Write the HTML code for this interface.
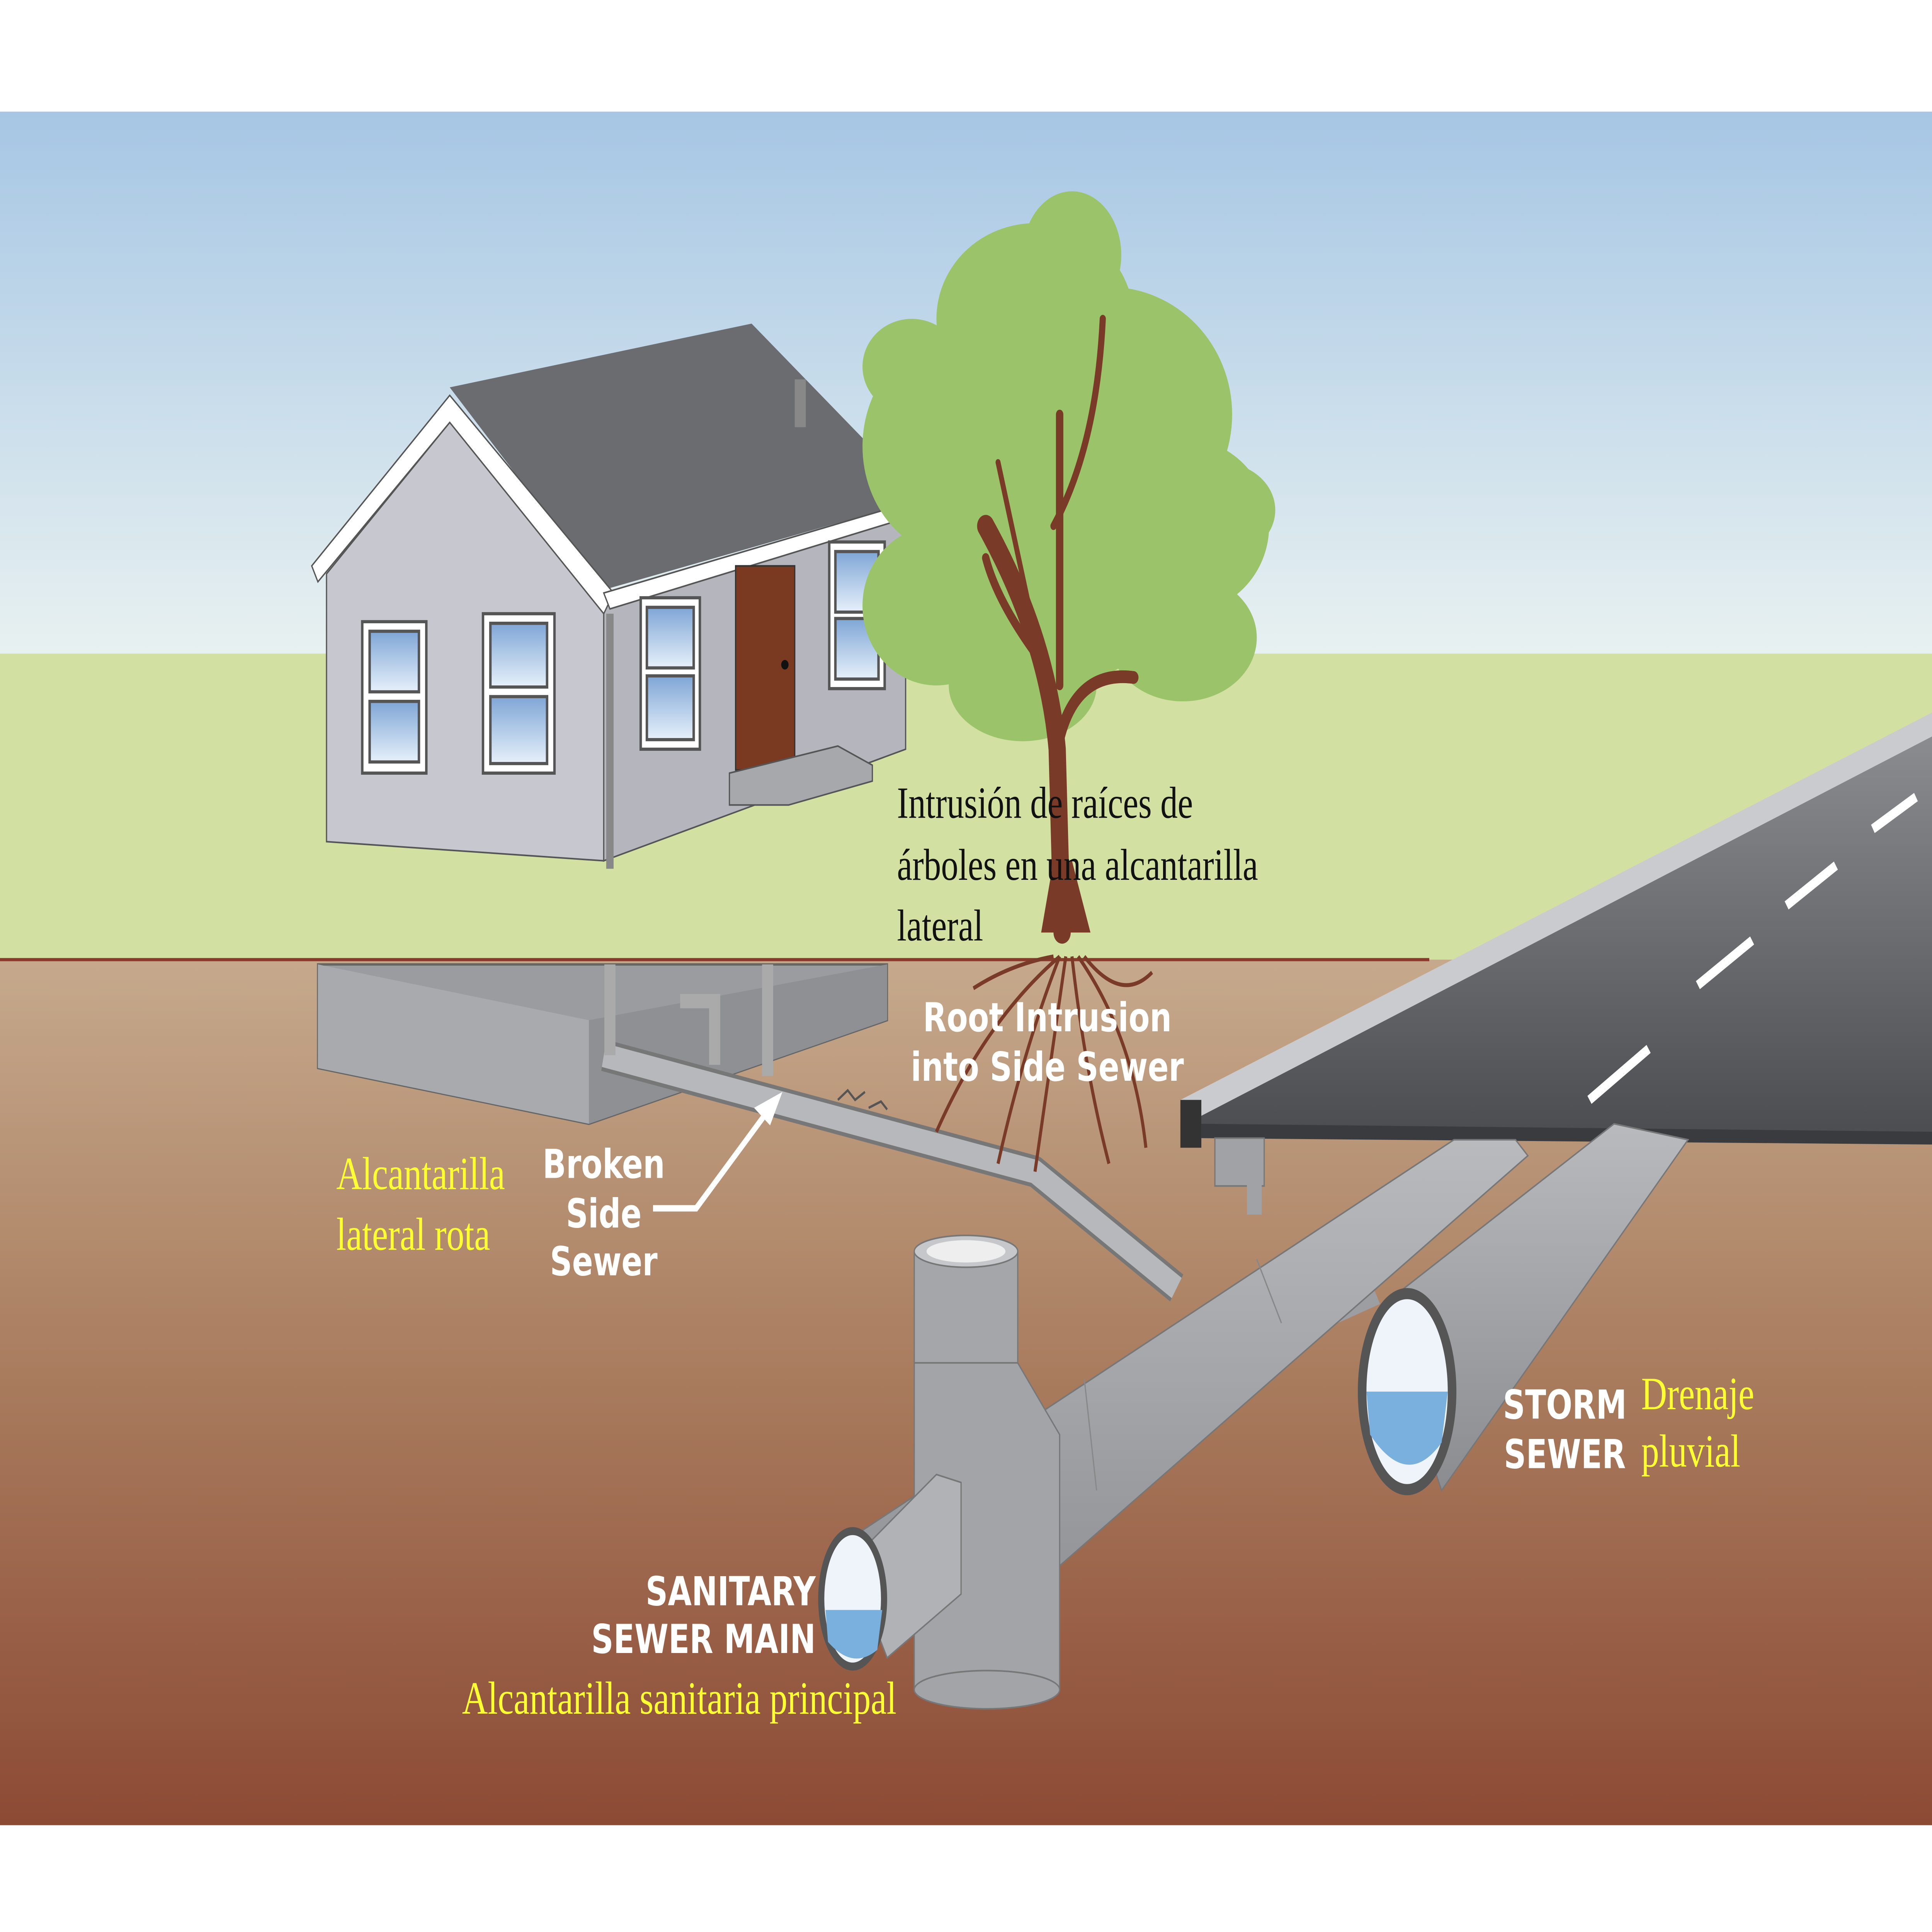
<!DOCTYPE html>
<html><head><meta charset="utf-8">
<style>
html,body{margin:0;padding:0;background:#fff;width:100%;height:100%;overflow:hidden;}
svg{display:block;position:absolute;left:0;top:0;width:100vw;height:100vh;}
.w{font-family:"DejaVu Sans","Liberation Sans",sans-serif;font-weight:bold;fill:#fff;font-size:25px;}
.y{font-family:"Liberation Serif",serif;fill:#ffff33;font-size:29px;}
.b{font-family:"Liberation Serif",serif;fill:#111;font-size:28px;}
</style></head><body>
<svg viewBox="0 0 1568 1212" preserveAspectRatio="none" xmlns="http://www.w3.org/2000/svg">
<defs>
<linearGradient id="sky" x1="0" y1="0" x2="0" y2="1"><stop offset="0" stop-color="#a6c6e4"/><stop offset="1" stop-color="#e8f1f1"/></linearGradient>
<linearGradient id="soil" x1="0" y1="0" x2="0" y2="1"><stop offset="0" stop-color="#c6a98c"/><stop offset="0.5" stop-color="#a87a5c"/><stop offset="1" stop-color="#8c4a35"/></linearGradient>
<linearGradient id="road" x1="0" y1="0" x2="0" y2="1"><stop offset="0" stop-color="#8a8c90"/><stop offset="1" stop-color="#4a4c50"/></linearGradient>
<linearGradient id="pipe" x1="0" y1="0" x2="0" y2="1"><stop offset="0" stop-color="#b8babd"/><stop offset="1" stop-color="#8a8c90"/></linearGradient>
<linearGradient id="win" x1="0" y1="0" x2="0" y2="1"><stop offset="0" stop-color="#7fa6d6"/><stop offset="1" stop-color="#e6f0fa"/></linearGradient>
</defs>
<rect x="0" y="0" width="1568" height="1212" fill="#fff"/>
<rect x="0" y="70" width="1568" height="340" fill="url(#sky)"/>
<rect x="0" y="410" width="1568" height="192" fill="#d2e1a2"/>
<rect x="0" y="602" width="1568" height="543" fill="url(#soil)"/>
<line x1="0" y1="602" x2="1160" y2="602" stroke="#8a3a2a" stroke-width="2"/>

<polygon points="258,605 720,605 720,640 478,705 258,670" fill="#9a9c9f" stroke="#666" stroke-width="1.5"/>
<polygon points="258,605 478,640 478,705 258,670" fill="#a8aaad"/>
<polygon points="478,640 720,605 720,640 478,705" fill="#8e9093"/>

<polygon points="958,690 1568,447 1568,462 975,700" fill="#c9cbcf"/>
<polygon points="975,700 1568,462 1568,715 975,705" fill="url(#road)"/>
<rect x="958" y="690" width="17" height="30" fill="#333"/>
<polygon points="975,705 1568,710 1568,718 975,714" fill="#3a3b3e"/>
<g stroke="#fff" stroke-width="6">
<line x1="1290" y1="690" x2="1338" y2="658"/>
<line x1="1378" y1="618" x2="1422" y2="590"/>
<line x1="1450" y1="568" x2="1490" y2="543"/>
<line x1="1520" y1="520" x2="1555" y2="500"/>
</g>
<rect x="986" y="714" width="40" height="30" fill="#a0a2a5" stroke="#777"/>
<rect x="1012" y="740" width="12" height="22" fill="#a0a2a5"/>

<polygon points="1060,800 1100,780 1120,818 1080,832" fill="#9c9ea1"/>
<polygon points="1120,820 1310,705 1370,715 1170,935" fill="url(#pipe)" stroke="#777"/>
<ellipse cx="1142" cy="873" rx="40" ry="65" fill="#555"/>
<ellipse cx="1142" cy="873" rx="33" ry="58" fill="#eef4fa"/>
<path d="M1109,873 L1175,873 L1170,905 Q1142,935 1112,900 Z" fill="#7ab0de"/>

<polygon points="700,960 1180,715 1230,715 1240,725 760,1050" fill="url(#pipe)" stroke="#777"/>
<line x1="880" y1="865" x2="890" y2="935" stroke="#888"/>
<line x1="1020" y1="790" x2="1040" y2="830" stroke="#888"/>
<rect x="742" y="785" width="84" height="70" fill="#a4a6a9" stroke="#777"/>
<ellipse cx="784" cy="785" rx="42" ry="10" fill="#c5c7ca" stroke="#777"/>
<ellipse cx="784" cy="785" rx="32" ry="7" fill="#eee"/>
<polygon points="742,855 826,855 860,900 860,1060 742,1060" fill="#a2a4a7" stroke="#777"/>
<ellipse cx="801" cy="1060" rx="59" ry="12" fill="#a2a4a7" stroke="#777"/>
<polygon points="690,980 760,925 780,930 780,1000 720,1040" fill="#b0b2b5" stroke="#777"/>
<ellipse cx="692" cy="1003" rx="28" ry="45" fill="#555"/>
<ellipse cx="692" cy="1003" rx="23" ry="40" fill="#eef4fa"/>
<path d="M670,1010 L716,1010 L712,1035 Q692,1048 672,1030 Z" fill="#7ab0de"/>

<polyline points="490,662 840,735 955,808" fill="none" stroke="#777" stroke-width="20" stroke-linejoin="round"/>
<polyline points="490,662 840,735 955,808" fill="none" stroke="#b6b8bb" stroke-width="15" stroke-linejoin="round"/>
<line x1="495" y1="605" x2="495" y2="662" stroke="#aaa" stroke-width="9"/>
<line x1="623" y1="605" x2="623" y2="675" stroke="#aaa" stroke-width="9"/>
<polyline points="552,628 580,628 580,668" fill="none" stroke="#aaa" stroke-width="9"/>
<path d="M680,690 l8,-6 l6,6 l8,-5 M705,695 l10,-4 l5,5" stroke="#555" fill="none" stroke-width="1.5"/>
<g stroke="#7a3a28" stroke-width="2.5" fill="none">
<path d="M860,600 Q800,640 760,710 M860,600 Q830,660 810,730 M865,600 Q850,680 840,735 M870,600 Q880,670 900,730 M875,600 Q920,650 930,720 M880,600 Q910,630 935,610 M855,600 Q820,605 790,620"/>
</g>
<polyline points="530,758 565,758 625,695" fill="none" stroke="#fff" stroke-width="4"/>
<polygon points="635,685 612,695 625,706" fill="#fff"/>

<polygon points="265,360 365,265 490,375 490,540 265,528" fill="#c7c8cf" stroke="#555"/>
<polygon points="490,375 735,325 735,470 490,540" fill="#b5b6bd" stroke="#555"/>
<polygon points="365,243 610,203 748,313 490,370" fill="#6b6c70"/>
<polygon points="253,355 365,248 498,372 490,385 365,265 258,365" fill="#fff" stroke="#555"/>
<polygon points="490,372 748,313 748,322 495,382" fill="#fff" stroke="#555"/>
<rect x="645" y="238" width="9" height="30" fill="#888"/>
<rect x="597" y="355" width="48" height="128" fill="#7a3a22" stroke="#333"/>
<circle cx="637" cy="417" r="3" fill="#111"/>
<polygon points="592,485 680,468 708,480 708,490 640,505 592,505" fill="#a6a8ab" stroke="#555"/>
<g stroke="#555" stroke-width="2">
<rect x="294" y="390" width="52" height="95" fill="#fff"/><rect x="300" y="396" width="40" height="38" fill="url(#win)"/><rect x="300" y="440" width="40" height="38" fill="url(#win)"/>
<rect x="392" y="385" width="58" height="100" fill="#fff"/><rect x="398" y="391" width="46" height="40" fill="url(#win)"/><rect x="398" y="437" width="46" height="42" fill="url(#win)"/>
<rect x="520" y="375" width="48" height="95" fill="#fff"/><rect x="525" y="381" width="38" height="38" fill="url(#win)"/><rect x="525" y="424" width="38" height="40" fill="url(#win)"/>
<rect x="673" y="340" width="45" height="92" fill="#fff"/><rect x="678" y="346" width="35" height="38" fill="url(#win)"/><rect x="678" y="388" width="35" height="38" fill="url(#win)"/>
</g>
<line x1="495" y1="385" x2="495" y2="545" stroke="#888" stroke-width="6"/>

<g fill="#9bc46a">
<ellipse cx="840" cy="200" rx="80" ry="60"/><ellipse cx="900" cy="260" rx="100" ry="80"/><ellipse cx="780" cy="280" rx="80" ry="70"/>
<ellipse cx="960" cy="330" rx="70" ry="55"/><ellipse cx="760" cy="380" rx="60" ry="50"/><ellipse cx="860" cy="360" rx="90" ry="70"/>
<ellipse cx="960" cy="400" rx="60" ry="40"/><ellipse cx="830" cy="430" rx="60" ry="35"/><ellipse cx="870" cy="160" rx="40" ry="40"/>
<ellipse cx="740" cy="230" rx="40" ry="30"/><ellipse cx="990" cy="320" rx="45" ry="30"/>
</g>
<g stroke="#7a3a28" fill="none" stroke-linecap="round">
<path d="M862,585 L858,470 Q850,400 800,330" stroke-width="14"/>
<path d="M858,470 Q870,420 920,425" stroke-width="8"/>
<path d="M850,420 Q810,380 800,350" stroke-width="6"/>
<path d="M860,430 L860,260" stroke-width="6"/>
<path d="M855,330 Q890,280 895,200" stroke-width="5"/>
<path d="M835,380 L810,290" stroke-width="4"/>
</g>
<polygon points="845,585 885,585 870,540 855,540" fill="#7a3a28"/>

<text class="b" x="728" y="513">Intrusión de raíces de</text>
<text class="b" x="728" y="552">árboles en una alcantarilla</text>
<text class="b" x="728" y="590">lateral</text>
<text class="w" x="850" y="647" text-anchor="middle">Root Intrusion</text>
<text class="w" x="850" y="678" text-anchor="middle">into Side Sewer</text>
<text class="w" x="490" y="739" text-anchor="middle">Broken</text>
<text class="w" x="490" y="770" text-anchor="middle">Side</text>
<text class="w" x="490" y="800" text-anchor="middle">Sewer</text>
<text class="y" x="273" y="746">Alcantarilla</text>
<text class="y" x="273" y="784">lateral rota</text>
<text class="w" x="1270" y="890" text-anchor="middle">STORM</text>
<text class="w" x="1270" y="921" text-anchor="middle">SEWER</text>
<text class="y" x="1332" y="884">Drenaje</text>
<text class="y" x="1332" y="920">pluvial</text>
<text class="w" x="662" y="1007" text-anchor="end">SANITARY</text>
<text class="w" x="662" y="1037" text-anchor="end">SEWER MAIN</text>
<text class="y" x="375" y="1075">Alcantarilla sanitaria principal</text>
</svg>
</body></html>
